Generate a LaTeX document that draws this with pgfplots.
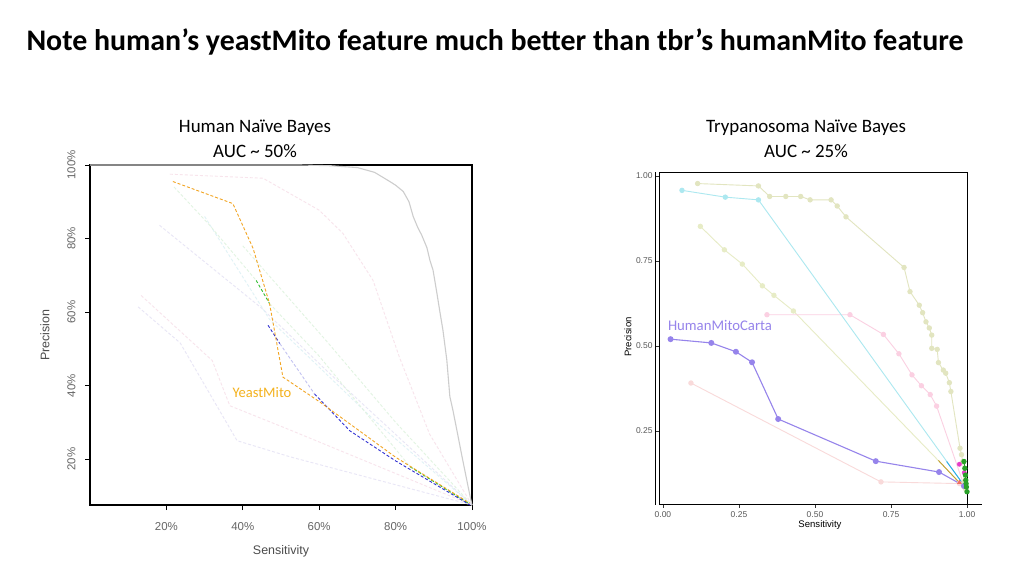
\documentclass[border=0pt]{standalone}
\usepackage{fontspec}
\setmainfont{Carlito}
\newfontfamily\arial{Liberation Sans}
\usepackage{pgfplots}
\pgfplotsset{compat=1.18}
\definecolor{orangeY}{RGB}{242,165,35}
\definecolor{blueD}{RGB}{50,50,210}
\definecolor{greenD}{RGB}{50,190,50}
\definecolor{grayC}{RGB}{205,205,205}
\definecolor{fpink}{RGB}{248,228,236}
\definecolor{flav}{RGB}{232,230,246}
\definecolor{fgreen}{RGB}{226,244,226}
\definecolor{fcyan}{RGB}{224,242,246}
\definecolor{purpleH}{RGB}{150,132,235}
\definecolor{olive1}{RGB}{226,229,192}
\definecolor{olive2}{RGB}{231,236,198}
\definecolor{cyanL}{RGB}{172,232,240}
\definecolor{pinkL}{RGB}{251,208,226}
\definecolor{salmonL}{RGB}{249,218,218}
\definecolor{goldD}{RGB}{195,160,50}
\definecolor{blueB}{RGB}{40,170,230}
\definecolor{magD}{RGB}{230,60,200}
\definecolor{greenM}{RGB}{40,160,40}
\definecolor{redM}{RGB}{240,110,100}
\pgfplotsset{rdash/.style={dash pattern=on 3bp off 2bp, line width=0.9bp}}
\begin{document}
\begin{tikzpicture}
\path[use as bounding box, fill=white] (0,0) rectangle (1024bp,576bp);
\node[anchor=west, font=\fontsize{30}{34}\selectfont\bfseries] at (23bp,534bp) {Note human’s yeastMito feature much better than tbr’s humanMito feature};
\node[font=\fontsize{19}{22}\selectfont] at (255bp,448bp) {Human Naïve Bayes};
\node[font=\fontsize{19}{22}\selectfont] at (255bp,425bp) {AUC \textasciitilde{} 50\%};
\node[font=\fontsize{19}{22}\selectfont] at (806bp,448bp) {Trypanosoma Naïve Bayes};
\node[font=\fontsize{19}{22}\selectfont] at (806bp,425bp) {AUC \textasciitilde{} 25\%};

\begin{axis}[
 at={(90bp,71bp)}, anchor=south west, scale only axis, width=382bp, height=340bp,
 xmin=0, xmax=1, ymin=0.075, ymax=1,
 axis line style={black, line width=1.2bp},
 xtick={0.2,0.4,0.6,0.8,1}, xticklabels={20\%,40\%,60\%,80\%,100\%},
 ytick={0.2,0.4,0.6,0.8,1}, yticklabels={20\%,40\%,60\%,80\%,100\%},
 tick align=outside, tick pos=left, major tick length=5bp,
 every tick/.style={black, line width=0.8bp},
 tick label style={font=\arial\fontsize{11.5}{12}\selectfont, text=black!60},
 xticklabel style={yshift=-9bp},
 yticklabel style={rotate=90, anchor=south, yshift=6bp},
 clip=false,
]
% faint lines
\addplot[fpink, rdash] coordinates {(0.209,0.975)(0.453,0.964)(0.60,0.877)(0.662,0.814)(0.741,0.686)(0.81,0.477)(0.889,0.268)(1.0,0.075)};
\addplot[flav, rdash] coordinates {(0.182,0.836)(0.45,0.61)(0.62,0.44)(1.0,0.075)};
\addplot[fcyan, rdash] coordinates {(0.30,0.86)(0.47,0.58)(0.75,0.30)(1.0,0.075)};
\addplot[fgreen, rdash] coordinates {(0.40,0.78)(0.62,0.52)(0.80,0.30)(1.0,0.075)};
\addplot[fpink, rdash] coordinates {(0.134,0.645)(0.32,0.468)(0.366,0.345)(0.524,0.279)(1.0,0.075)};
\addplot[flav, rdash] coordinates {(0.126,0.614)(0.236,0.516)(0.385,0.25)(0.524,0.206)(1.0,0.075)};
\addplot[fgreen, rdash] coordinates {(0.22,0.94)(0.31,0.84)(0.435,0.686)};
\addplot[fgreen, rdash] coordinates {(0.47,0.623)(0.60,0.48)(0.838,0.179)};
% gray curve
\addplot[grayC, line width=1.1bp] coordinates {(0.0,1.0)(0.55,1.0)(0.63,0.998)(0.70,0.993)(0.745,0.98)(0.785,0.955)(0.80,0.945)(0.82,0.928)(0.835,0.90)(0.846,0.86)(0.858,0.83)(0.868,0.81)(0.882,0.775)(0.89,0.74)(0.898,0.714)(0.908,0.652)(0.916,0.60)(0.924,0.55)(0.934,0.47)(0.942,0.37)(0.95,0.333)(0.962,0.27)(0.974,0.206)(0.99,0.124)(0.997,0.089)(1.0,0.075)};
% dark dashed
\addplot[greenD, rdash] coordinates {(0.435,0.686)(0.47,0.623)};
\addplot[greenD, rdash] coordinates {(0.838,0.179)(0.99,0.08)};
\addplot[blueD, rdash] coordinates {(0.466,0.564)(0.497,0.514)};
\addplot[blueD!30, rdash] coordinates {(0.497,0.514)(0.588,0.377)};
\addplot[blueD, rdash] coordinates {(0.588,0.377)(0.68,0.277)(0.80,0.195)(0.995,0.075)};
\addplot[orangeY, rdash] coordinates {(0.217,0.955)(0.374,0.895)(0.427,0.773)(0.47,0.623)(0.505,0.423)(0.602,0.355)(0.80,0.205)(0.994,0.08)};
\end{axis}
\node[font=\arial\fontsize{12.5}{14}\selectfont, text=black!70, rotate=90] at (45bp,241bp) {Precision};
\node[font=\arial\fontsize{12.5}{14}\selectfont, text=black!70] at (281bp,25bp) {Sensitivity};
\node[font=\fontsize{14.6}{16}\selectfont, text=orangeY!85!yellow] at (262bp,183bp) {YeastMito};

\begin{axis}[
 at={(659bp,71bp)}, anchor=south west, scale only axis, width=308bp, height=333bp,
 xmin=-0.013, xmax=1.0, ymin=0.032, ymax=1.012,
 axis line style={black, line width=1bp},
 xtick={0,0.25,0.5,0.75,1}, xticklabels={0.00,0.25,0.50,0.75,1.00},
 ytick={0.25,0.5,0.75,1}, yticklabels={0.25,0.50,0.75,1.00},
 tick align=outside, tick pos=left, major tick length=3bp,
 every tick/.style={black!80, line width=0.6bp},
 tick label style={font=\arial\fontsize{8.5}{9}\selectfont, text=black!65},
 clip=false,
]
\addplot[salmonL, line width=0.9bp, mark=*, mark size=2.2bp] coordinates {(0.092,0.391)(0.717,0.1)(0.975,0.095)};
\addplot[olive2, line width=0.9bp, mark=*, mark size=2.2bp] coordinates {(0.123,0.852)(0.202,0.783)(0.261,0.741)(0.327,0.677)(0.365,0.649)(0.429,0.603)(0.99,0.085)};
\addplot[pinkL, line width=0.9bp, mark=*, mark size=2.2bp] coordinates {(0.342,0.592)(0.615,0.592)(0.725,0.534)(0.776,0.477)(0.819,0.415)(0.85,0.383)(0.879,0.357)(0.90,0.323)(0.99,0.09)};
\addplot[cyanL, line width=0.9bp, mark=*, mark size=2.2bp] coordinates {(0.0625,0.958)(0.205,0.938)(0.314,0.93)(0.99,0.09)};
\addplot[olive1, line width=0.9bp, mark=*, mark size=2.2bp] coordinates {(0.114,0.978)(0.314,0.971)(0.351,0.94)(0.404,0.94)(0.453,0.94)(0.484,0.93)(0.553,0.93)(0.573,0.912)(0.602,0.88)(0.793,0.731)(0.8125,0.66)(0.843,0.62)(0.854,0.598)(0.865,0.571)(0.876,0.553)(0.884,0.532)(0.884,0.493)(0.902,0.49)(0.906,0.451)(0.922,0.429)(0.93,0.42)(0.942,0.392)(0.947,0.366)(0.977,0.199)(0.982,0.18)(0.986,0.16)(0.99,0.1)(0.995,0.08)};
\addplot[goldD, line width=0.9bp] coordinates {(0.906,0.163)(0.985,0.088)};
\addplot[blueB, line width=0.9bp] coordinates {(0.933,0.16)(0.99,0.09)};
\addplot[purpleH, line width=1.1bp, mark=*, mark size=2.4bp] coordinates {(0.025,0.52)(0.159,0.509)(0.24,0.483)(0.293,0.452)(0.379,0.285)(0.70,0.161)(0.908,0.129)(0.99,0.088)};
\addplot[only marks, redM, mark=triangle*, mark size=2.4bp] coordinates {(0.975,0.098)};
\addplot[only marks, magD, mark=*, mark size=2.2bp] coordinates {(0.975,0.152)(0.991,0.127)};
\addplot[greenM, line width=0.9bp, mark=*, mark size=2.2bp] coordinates {(0.99,0.16)(0.993,0.14)(0.995,0.12)(0.996,0.105)(0.997,0.095)(0.998,0.085)(1.0,0.071)};
\end{axis}
\draw[black, line width=0.8bp] (655.5bp,71bp) -- (655.5bp,404bp);
\draw[black, line width=1bp] (967bp,71bp) -- (982bp,71bp);
\node[font=\arial\fontsize{9.6}{11}\selectfont, rotate=90] at (628bp,239bp) {Precision};
\node[font=\arial\fontsize{9.6}{11}\selectfont] at (820bp,51bp) {Sensitivity};
\node[font=\fontsize{14.8}{16}\selectfont, text=purpleH] at (720bp,251bp) {HumanMitoCarta};
\end{tikzpicture}
\end{document}
